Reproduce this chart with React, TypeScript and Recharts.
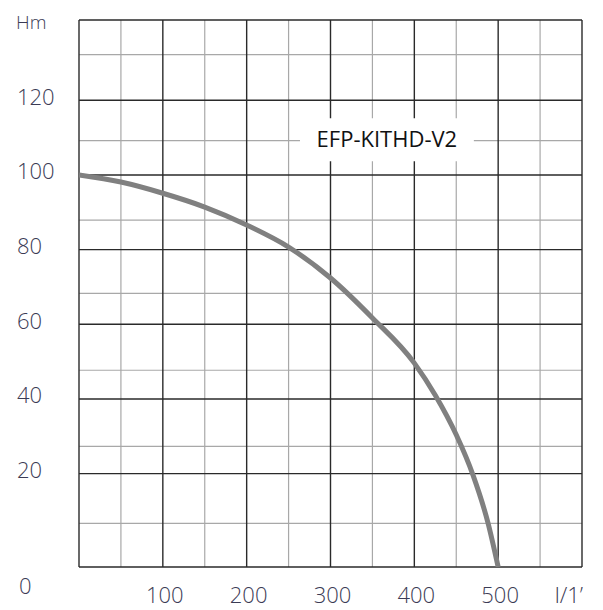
import React from 'react';
import { LineChart, Line, XAxis, YAxis, CartesianGrid, ReferenceArea } from 'recharts';

// Flow rate (l/1') and head (Hm)
const FLOW = [0, 50, 100, 150, 200, 250, 300, 350, 400, 425, 450, 470, 488, 500];
const HEAD = [100, 98.1, 95.1, 91.4, 86.6, 80.7, 72.4, 61.7, 49.6, 41, 30.4, 19.6, 6.7, -5];

const X_TICKS = [100, 200, 300, 400, 500, 600];
const Y_TICKS = [0, 20, 40, 60, 80, 100, 120];
const X_MAJOR = [0, 100, 200, 300, 400, 500, 600];
const X_MINOR = [50, 150, 250, 350, 450, 550];
const Y_MAJOR = [-5, 20, 40, 60, 80, 100, 120, 141.5];
const Y_MINOR = [6.7, 27.3, 47.7, 68.3, 87.9, 109.2, 132.2];
const X_DOMAIN: [number, number] = [0, 600];
const Y_DOMAIN: [number, number] = [-5, 141.5];
const MODEL = 'EFP-KITHD-V2';
const X_UNIT = 'l/1\u2019';
const Y_UNIT = 'Hm';

const data = FLOW.map((q, i) => ({ q, h: HEAD[i] }));

const FONT = '"Open Sans", "DejaVu Sans", sans-serif';
const TXT = '#3b3b55';

const XTick = (props: any) => {
  const { x, y, payload } = props;
  const isUnit = payload.value === 600;
  return (
    <text
      x={isUnit ? x + 1 : x + 2}
      y={y + 36}
      textAnchor={isUnit ? 'end' : 'middle'}
      fontFamily={FONT}
      fontWeight={300}
      fontSize={22}
      fill={TXT}
    >
      {isUnit ? X_UNIT : payload.value}
    </text>
  );
};

const YTick = (props: any) => {
  const { y, payload } = props;
  const isZero = payload.value === 0;
  return (
    <text
      x={isZero ? 19 : 17}
      y={isZero ? y + 45.5 : y + 4.3}
      textAnchor="start"
      fontFamily={FONT}
      fontWeight={300}
      fontSize={22}
      fill={TXT}
    >
      {payload.value}
    </text>
  );
};

const YLabel = () => (
  <text x={16} y={28.5} textAnchor="start" fontFamily={FONT} fontWeight={300} fontSize={19} fill={TXT}>
    {Y_UNIT}
  </text>
);

export default function App() {
  return (
    <div style={{ position: 'absolute', left: 0, top: 0, width: 603, height: 610, background: '#fff' }}>
      <LineChart width={603} height={610} data={data} margin={{ top: 20, right: 21, bottom: 0, left: 0 }}>
        <CartesianGrid
          horizontalValues={Y_MINOR}
          verticalValues={X_MINOR}
          stroke="#a8a8a8"
          strokeWidth={1.2}
          fill="none"
        />
        <CartesianGrid
          horizontalValues={Y_MAJOR}
          verticalValues={X_MAJOR}
          stroke="#2a2a2a"
          strokeWidth={1.4}
          fill="none"
        />
        <XAxis
          dataKey="q"
          type="number"
          domain={X_DOMAIN}
          ticks={X_TICKS}
          axisLine={false}
          tickLine={false}
          tickSize={0}
          tickMargin={0}
          height={43}
          tick={<XTick />}
          interval={0}
          allowDataOverflow
        />
        <YAxis
          type="number"
          domain={Y_DOMAIN}
          ticks={Y_TICKS}
          axisLine={false}
          tickLine={false}
          tickSize={0}
          tickMargin={0}
          width={79}
          tick={<YTick />}
          interval={0}
          allowDataOverflow
          label={{ content: <YLabel /> }}
        />
        <ReferenceArea
          x1={263.6}
          x2={471}
          y1={103.7}
          y2={115.2}
          fill="#ffffff"
          fillOpacity={1}
          stroke="none"
          label={{ value: MODEL, position: 'center', fontFamily: FONT, fontSize: 22, fill: '#111' }}
        />
        <Line
          type="monotone"
          dataKey="h"
          stroke="#808080"
          strokeWidth={5}
          dot={false}
          isAnimationActive={false}
        />
      </LineChart>
    </div>
  );
}
